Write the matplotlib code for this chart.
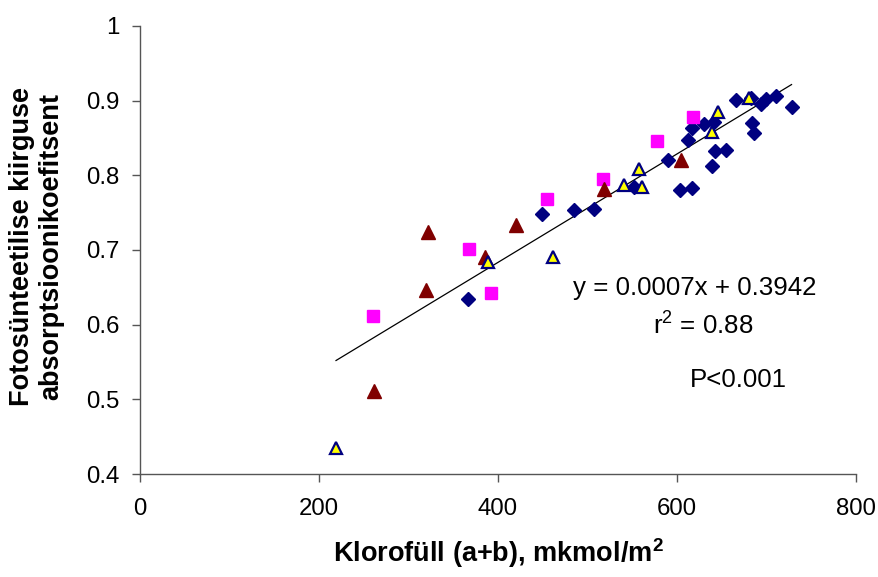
import numpy as np
import matplotlib
matplotlib.use('Agg')
from matplotlib import pyplot as plt

plt.rcParams['font.family'] = ['Liberation Sans', 'DejaVu Sans']
plt.rcParams['mathtext.fontset'] = 'custom'
plt.rcParams['mathtext.rm'] = 'Liberation Sans'
plt.rcParams['mathtext.bf'] = 'Liberation Sans:bold'

# navy diamonds
diam_x = [366, 449, 485, 507, 552, 590, 603, 617, 612, 617, 630, 641, 643,
          655, 639, 666, 683, 694, 700, 711, 728, 684, 686]
diam_y = [0.634, 0.748, 0.753, 0.755, 0.785, 0.820, 0.780, 0.783, 0.847, 0.863,
          0.869, 0.872, 0.832, 0.834, 0.812, 0.901, 0.903, 0.896, 0.902, 0.906,
          0.892, 0.870, 0.857]
# magenta squares
sq_x = [260, 368, 392, 455, 517, 578, 618]
sq_y = [0.612, 0.701, 0.642, 0.768, 0.795, 0.846, 0.878]
# dark red triangles
red_x = [261, 319, 322, 386, 420, 518, 604]
red_y = [0.511, 0.647, 0.724, 0.690, 0.733, 0.781, 0.820]
# yellow triangles
yel_x = [219, 389, 462, 541, 561, 558, 639, 646, 680]
yel_y = [0.435, 0.684, 0.690, 0.787, 0.785, 0.808, 0.858, 0.885, 0.904]

trend_slope = 0.000726
trend_icpt = 0.393


def make_plot():
    fig = plt.figure(figsize=(8.79, 5.77), dpi=100)
    ax = fig.add_axes([0.1593, 0.1785, 0.8145, 0.7765])

    all_x = diam_x + sq_x + red_x + yel_x
    lx = np.array([min(all_x), max(all_x)])
    ax.plot(lx, trend_slope * lx + trend_icpt, color='black', lw=0.9, zorder=1)

    ax.plot(diam_x, diam_y, 'D', color='#000080', ms=7.4, mec='#000080', zorder=3)
    ax.plot(sq_x, sq_y, 's', color='#ff00ff', ms=8.2, mec='#ff00ff', zorder=3)
    ax.plot(red_x, red_y, '^', color='#800000', ms=9.5, mec='#800000', zorder=3)
    ax.plot(yel_x, yel_y, '^', color='#ffff00', ms=8.5, mec='#000080', mew=1.6, zorder=4)

    ax.set_xlim(0, 800)
    ax.set_ylim(0.4, 1.0)
    ax.set_xticks([0, 200, 400, 600, 800])
    ax.set_yticks([0.4, 0.5, 0.6, 0.7, 0.8, 0.9, 1.0])
    ax.set_yticklabels(['0.4', '0.5', '0.6', '0.7', '0.8', '0.9', '1'])
    for s in ['top', 'right']:
        ax.spines[s].set_visible(False)
    for s in ['left', 'bottom']:
        ax.spines[s].set_color('#555555')
        ax.spines[s].set_linewidth(1.0)
    ax.tick_params(axis='both', direction='out', length=6, width=1.0,
                   color='#555555', labelsize=17.3)
    ax.tick_params(axis='x', pad=11)
    ax.tick_params(axis='y', pad=9)

    fs = 18.6
    fig.text(695 / 879, 1 - 288 / 577, 'y = 0.0007x + 0.3942', fontsize=fs,
             ha='center', va='center')
    fig.text(703 / 879, 1 - 325 / 577, r'r$^2$ = 0.88', fontsize=fs,
             ha='center', va='center')
    fig.text(738 / 879, 1 - 380 / 577, 'P<0.001', fontsize=fs,
             ha='center', va='center')

    fig.text(498 / 879, 1 - 553 / 577, r'Klorofüll (a+b), mkmol/m$^\mathbf{2}$',
             fontsize=19.5, fontweight='bold', ha='center', va='center')
    fig.text(37 / 879, 1 - 247 / 577,
             'Fotosünteetilise kiirguse\nabsorptsioonikoefitsent',
             fontsize=19.5, fontweight='bold', ha='center', va='center',
             rotation=90, linespacing=1.15)

    fig.savefig('out.png', dpi=100)


if __name__ == '__main__':
    make_plot()
